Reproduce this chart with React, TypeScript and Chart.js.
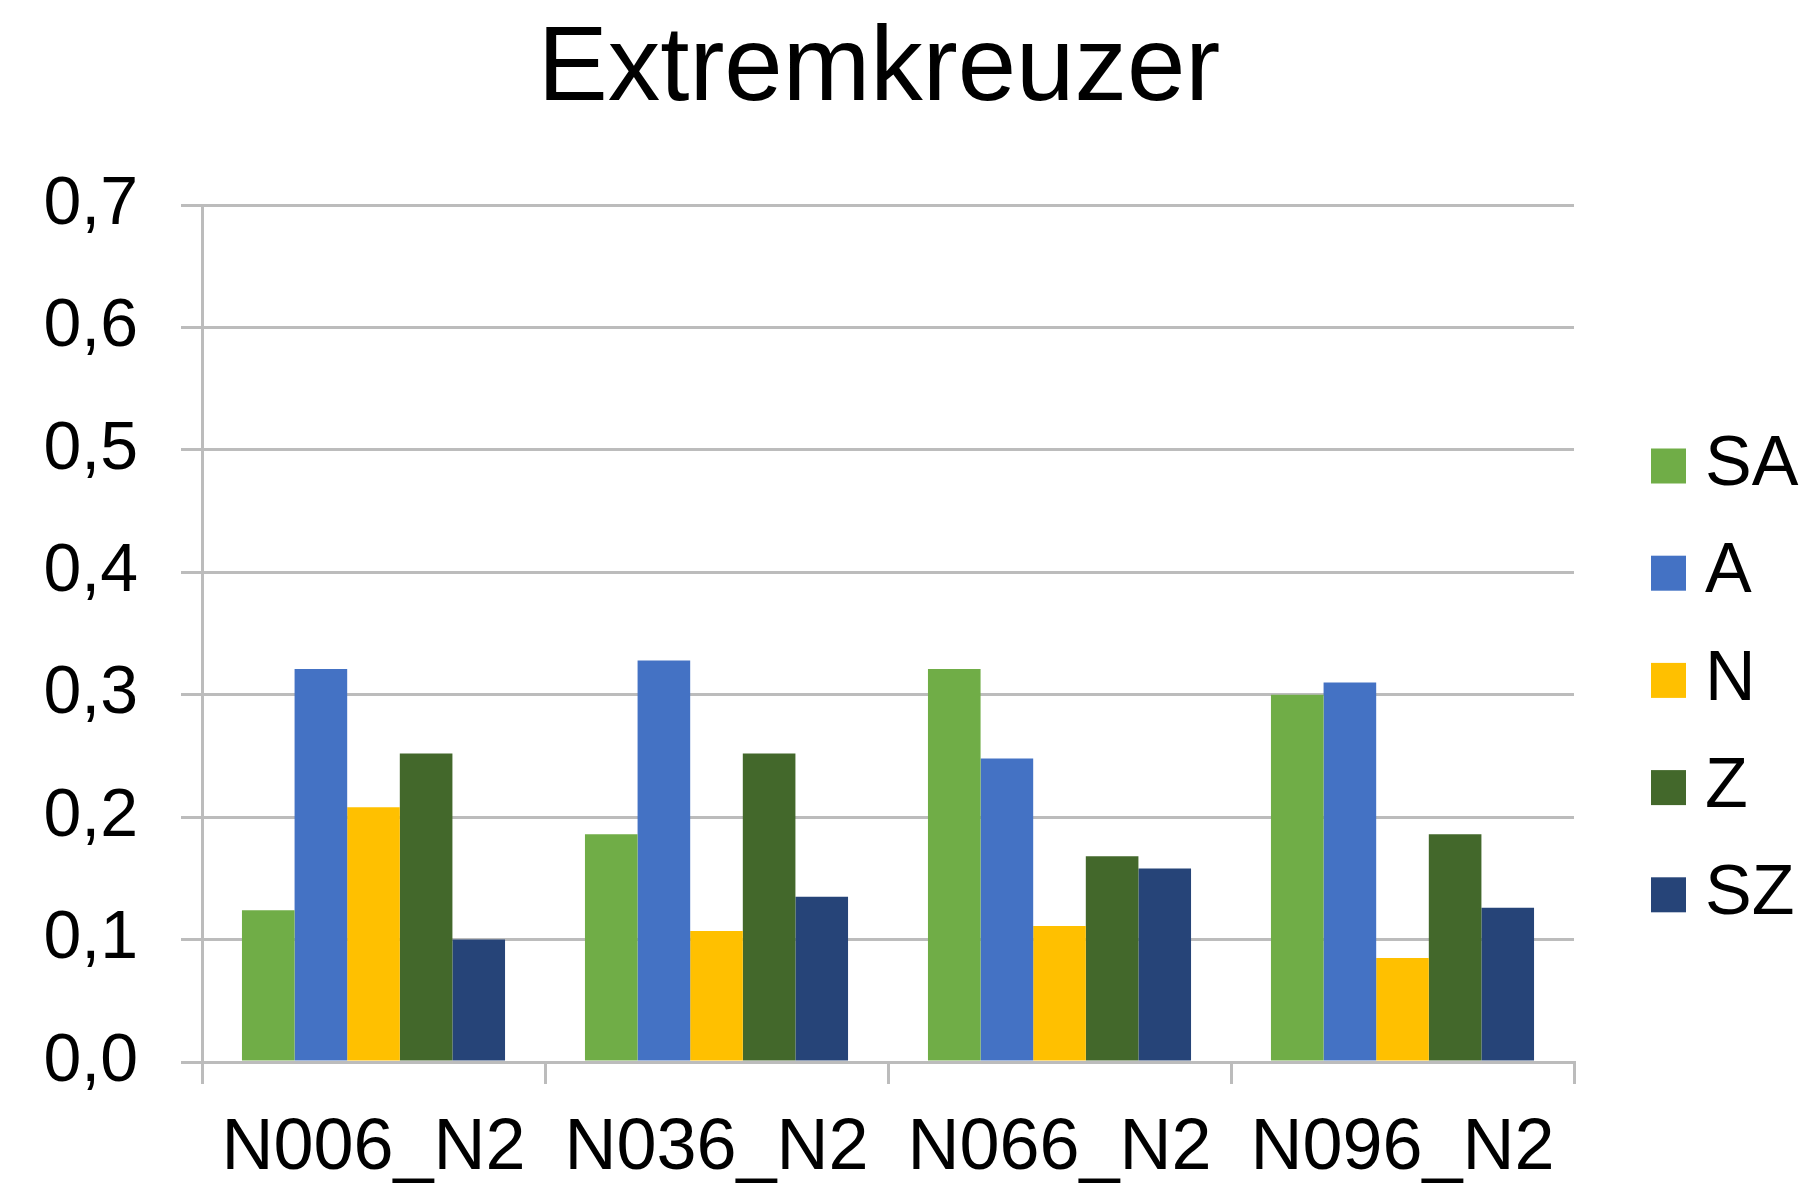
import React, { useEffect, useRef } from "react";
import { Chart, registerables } from "chart.js";

Chart.register(...registerables);

const categories = ["N006_N2", "N036_N2", "N066_N2", "N096_N2"];
const seriesNames = ["SA", "A", "N", "Z", "SZ"];
const seriesColors = ["#70AD47", "#4472C4", "#FFC000", "#43682B", "#264478"];
const valuesSA = [0.124, 0.186, 0.321, 0.3];
const valuesA = [0.321, 0.328, 0.248, 0.31];
const valuesN = [0.208, 0.107, 0.111, 0.085];
const valuesZ = [0.252, 0.252, 0.168, 0.186];
const valuesSZ = [0.1, 0.135, 0.158, 0.126];
const yTickLabels = ["0,0", "0,1", "0,2", "0,3", "0,4", "0,5", "0,6", "0,7"];
const chartTitle = "Extremkreuzer";

const FONT = "'Liberation Sans', Arial, Helvetica, sans-serif";
const GRID = "#bcbcbc";

const titleAndLegendPlugin = {
  id: "titleAndLegend",
  afterDraw(chart: any) {
    const ctx = chart.ctx;
    const ds = chart.data.datasets;
    ctx.save();
    // title
    ctx.font = `105px ${FONT}`;
    ctx.fillStyle = "#000";
    ctx.textAlign = "center";
    ctx.textBaseline = "alphabetic";
    ctx.fillText(chartTitle, 879, 100);
    // legend
    ctx.font = `70px ${FONT}`;
    ctx.textBaseline = "middle";
    ctx.textAlign = "left";
    ds.forEach((d: any, i: number) => {
      const cy = 466 + i * 107.2;
      ctx.fillStyle = d.backgroundColor;
      ctx.fillRect(1651, cy - 17.5, 35, 35);
      ctx.fillStyle = "#000";
      ctx.fillText(d.label, 1705, cy);
    });
    ctx.restore();
  },
};

export default function App() {
  const ref = useRef<HTMLCanvasElement | null>(null);
  useEffect(() => {
    if (!ref.current) return;
    const seriesValues = [valuesSA, valuesA, valuesN, valuesZ, valuesSZ];
    const chart = new Chart(ref.current, {
      type: "bar",
      data: {
        labels: categories,
        datasets: seriesNames.map((name, i) => ({
          label: name,
          data: seriesValues[i],
          backgroundColor: seriesColors[i],
          borderWidth: 0,
          categoryPercentage: 0.767,
          barPercentage: 1,
        })),
      },
      options: {
        animation: false,
        responsive: false,
        maintainAspectRatio: false,
        layout: { padding: { left: 0, right: 234, top: 205, bottom: 0 } },
        plugins: {
          legend: { display: false },
          tooltip: { enabled: false },
          title: { display: false },
        },
        scales: {
          x: {
            afterFit(scale: any) {
              scale.height = 126;
            },
            grid: {
              display: true,
              drawOnChartArea: false,
              drawTicks: true,
              tickLength: 22,
              color: GRID,
              lineWidth: 3,
            },
            border: { display: true, color: GRID, width: 3 },
            ticks: {
              color: "#000",
              font: { family: FONT, size: 72 },
              padding: 22,
              maxRotation: 0,
              autoSkip: false,
            },
          },
          y: {
            min: 0,
            max: 0.7,
            afterFit(scale: any) {
              scale.width = 202;
            },
            grid: {
              color: GRID,
              lineWidth: 3,
              drawTicks: true,
              tickLength: 21,
            },
            border: { display: true, color: GRID, width: 3 },
            ticks: {
              stepSize: 0.1,
              color: "#000",
              font: { family: FONT, size: 68 },
              padding: 43,
              callback: (_v: any, index: number) => yTickLabels[index],
            },
          },
        },
      },
      plugins: [titleAndLegendPlugin],
    });
    return () => chart.destroy();
  }, []);
  return (
    <div style={{ position: "absolute", left: 0, top: 0, width: 1808, height: 1188, background: "#fff" }}>
      <canvas ref={ref} width={1808} height={1188} style={{ display: "block" }} />
    </div>
  );
}
